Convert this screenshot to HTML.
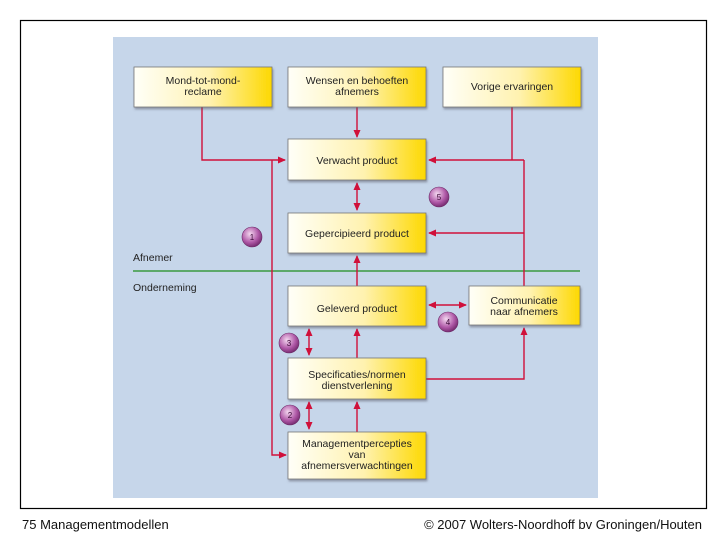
<!DOCTYPE html>
<html><head><meta charset="utf-8"><style>
body{margin:0;width:728px;height:546px;background:#fff;overflow:hidden;font-family:"Liberation Sans",sans-serif}
</style></head><body>
<svg width="728" height="546" xmlns="http://www.w3.org/2000/svg" style="position:absolute;left:0;top:0">
<defs>
<linearGradient id="g" x1="0" y1="0" x2="1" y2="0"><stop offset="0" stop-color="#fffff8"/><stop offset="0.55" stop-color="#fff2b0"/><stop offset="1" stop-color="#fdd800"/></linearGradient>
<radialGradient id="c" cx="0.4" cy="0.35" r="0.7"><stop offset="0" stop-color="#f4d8f0"/><stop offset="0.6" stop-color="#b05aa8"/><stop offset="1" stop-color="#6e2468"/></radialGradient>
<marker id="a" markerWidth="8" markerHeight="8" refX="7" refY="4" orient="auto-start-reverse" markerUnits="userSpaceOnUse"><path d="M0,0.5 L8,4 L0,7.5 Z" fill="#d0103a"/></marker>
<filter id="s" x="-5%" y="-5%" width="115%" height="125%"><feDropShadow dx="1" dy="2" stdDeviation="1" flood-color="#556" flood-opacity="0.5"/></filter>
</defs>
<rect x="20.5" y="20.5" width="686" height="488" fill="#fff" stroke="#000" stroke-width="1.2"/>
<rect x="113" y="37" width="485" height="461" fill="#c6d6ea"/>
<line x1="133" y1="271" x2="580" y2="271" stroke="#3a9a40" stroke-width="1.6"/>
<g font-size="10.5" fill="#222" font-family="Liberation Sans, sans-serif">
<text x="133" y="261">Afnemer</text>
<text x="133" y="291">Onderneming</text>
</g>
<g stroke="#d0103a" stroke-width="1.4" fill="none">
<polyline points="202,107 202,160 285,160" marker-end="url(#a)"/>
<polyline points="272,160 272,455 286,455" marker-end="url(#a)"/>
<line x1="357" y1="107" x2="357" y2="137" marker-end="url(#a)"/>
<polyline points="512,107 512,160"/>
<line x1="524" y1="160" x2="429" y2="160" marker-end="url(#a)"/>
<polyline points="524,160 524,286"/>
<line x1="524" y1="233" x2="429" y2="233" marker-end="url(#a)"/>
<line x1="357" y1="183" x2="357" y2="210" marker-start="url(#a)" marker-end="url(#a)"/>
<line x1="357" y1="286" x2="357" y2="256" marker-end="url(#a)"/>
<line x1="429" y1="305" x2="466" y2="305" marker-start="url(#a)" marker-end="url(#a)"/>
<line x1="357" y1="358" x2="357" y2="329" marker-end="url(#a)"/>
<polyline points="426,379 524,379 524,328" marker-end="url(#a)"/>
<line x1="309" y1="329" x2="309" y2="355" marker-start="url(#a)" marker-end="url(#a)"/>
<line x1="309" y1="402" x2="309" y2="429" marker-start="url(#a)" marker-end="url(#a)"/>
<line x1="357" y1="432" x2="357" y2="402" marker-end="url(#a)"/>
</g>
<g fill="url(#g)" stroke="#777" stroke-width="0.8" filter="url(#s)">
<rect x="134" y="67" width="138" height="40"/>
<rect x="288" y="67" width="138" height="40"/>
<rect x="443" y="67" width="138" height="40"/>
<rect x="288" y="139" width="138" height="41"/>
<rect x="288" y="213" width="138" height="40"/>
<rect x="288" y="286" width="138" height="40"/>
<rect x="469" y="286" width="111" height="39"/>
<rect x="288" y="358" width="138" height="41"/>
<rect x="288" y="432" width="138" height="47"/>
</g>
<g font-size="10.5" fill="#222" text-anchor="middle">
<text x="203" y="84">Mond-tot-mond-</text><text x="203" y="95">reclame</text>
<text x="357" y="84">Wensen en behoeften</text><text x="357" y="95">afnemers</text>
<text x="512" y="90">Vorige ervaringen</text>
<text x="357" y="164">Verwacht product</text>
<text x="357" y="237">Gepercipieerd product</text>
<text x="357" y="312">Geleverd product</text>
<text x="524" y="304">Communicatie</text><text x="524" y="315">naar afnemers</text>
<text x="357" y="378">Specificaties/normen</text><text x="357" y="389">dienstverlening</text>
<text x="357" y="447">Managementpercepties</text><text x="357" y="458">van</text><text x="357" y="469">afnemersverwachtingen</text>
</g>
<g stroke="#6a2a66" stroke-width="0.6" fill="url(#c)">
<circle cx="252" cy="237" r="10"/><circle cx="439" cy="197" r="10"/><circle cx="448" cy="322" r="10"/><circle cx="289" cy="343" r="10"/><circle cx="290" cy="415" r="10"/>
</g>
<g font-size="8" fill="#3a0a36" text-anchor="middle">
<text x="252" y="240">1</text><text x="439" y="200">5</text><text x="448" y="325">4</text><text x="289" y="346">3</text><text x="290" y="418">2</text>
</g>
<g font-size="13" fill="#111">
<text x="22" y="529">75 Managementmodellen</text>
<text x="702" y="529" text-anchor="end">© 2007 Wolters-Noordhoff bv Groningen/Houten</text>
</g>
</svg>
</body></html>
